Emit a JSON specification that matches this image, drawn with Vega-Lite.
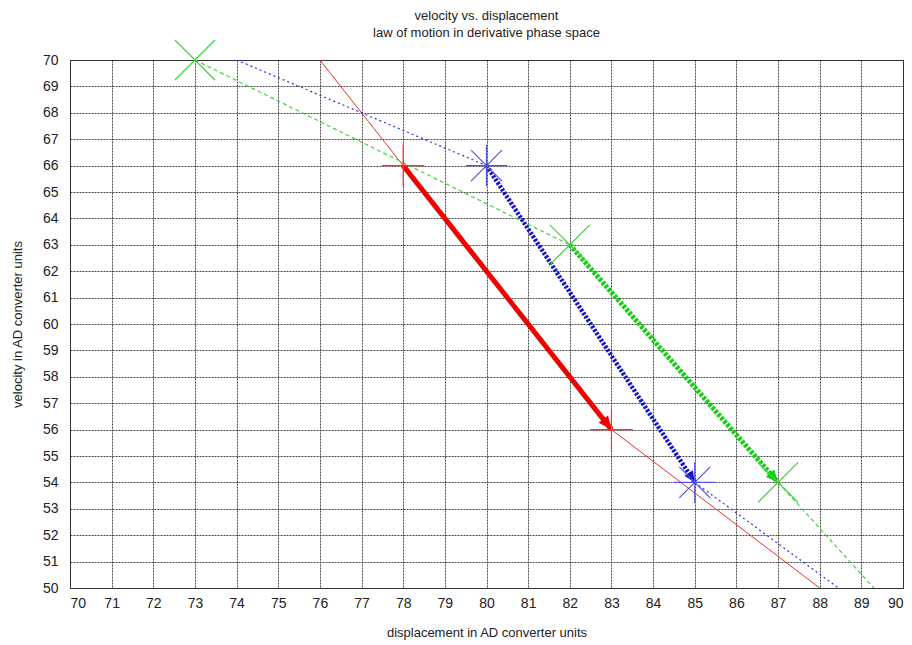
{
  "$schema": "https://vega.github.io/schema/vega-lite/v6.json",
  "width": 833,
  "height": 528,
  "autosize": "none",
  "padding": {"left": 70, "top": 60, "right": 9, "bottom": 57},
  "background": "white",
  "config": {
    "view": {"stroke": "#333", "strokeWidth": 1},
    "font": "Liberation Sans",
    "axis": {
      "grid": true,
      "gridColor": "#333",
      "gridWidth": 1,
      "gridDash": [2, 1],
      "gridOpacity": 0.9,
      "ticks": false,
      "domain": false,
      "labelFont": "Liberation Sans",
      "labelFontSize": 14,
      "labelColor": "#222",
      "titleFont": "Liberation Sans",
      "titleFontSize": 13,
      "titleFontWeight": "normal",
      "titleColor": "#222"
    }
  },
  "title": {
    "text": ["velocity vs. displacement", "law of motion in derivative phase space"],
    "font": "Liberation Sans",
    "fontSize": 13,
    "fontWeight": "normal",
    "color": "#222",
    "anchor": "middle",
    "offset": -2,
    "lineHeight": 17
  },
  "datasets": {
    "lines": [
      {"seg": "r1", "order": 1, "x": 76, "y": 70},
      {"seg": "r1", "order": 2, "x": 78, "y": 66},
      {"seg": "r2", "order": 1, "x": 83, "y": 56},
      {"seg": "r2", "order": 2, "x": 88, "y": 50},
      {"seg": "b1", "order": 1, "x": 74, "y": 70},
      {"seg": "b1", "order": 2, "x": 80, "y": 66},
      {"seg": "b2", "order": 1, "x": 85, "y": 54},
      {"seg": "b2", "order": 2, "x": 88.45, "y": 50},
      {"seg": "g1", "order": 1, "x": 73, "y": 70},
      {"seg": "g1", "order": 2, "x": 82, "y": 63},
      {"seg": "g2", "order": 1, "x": 87, "y": 54},
      {"seg": "g2", "order": 2, "x": 89.3, "y": 50},
      {"seg": "R", "order": 1, "x": 78, "y": 66},
      {"seg": "R", "order": 2, "x": 83, "y": 56},
      {"seg": "B", "order": 1, "x": 80, "y": 66},
      {"seg": "B", "order": 2, "x": 85, "y": 54},
      {"seg": "G", "order": 1, "x": 82, "y": 63},
      {"seg": "G", "order": 2, "x": 87, "y": 54}
    ],
    "markers": [
      {"kind": "plus", "x": 78, "y": 66},
      {"kind": "plus", "x": 83, "y": 56},
      {"kind": "star", "x": 80, "y": 66},
      {"kind": "star", "x": 85, "y": 54},
      {"kind": "cross", "x": 73, "y": 70},
      {"kind": "cross", "x": 82, "y": 63},
      {"kind": "cross", "x": 87, "y": 54}
    ],
    "arrows": [
      {"arrow": "R", "x": 83, "y": 56},
      {"arrow": "B", "x": 85, "y": 54},
      {"arrow": "G", "x": 87, "y": 54}
    ]
  },
  "encoding": {
    "x": {
      "field": "x", "type": "quantitative",
      "scale": {"domain": [70, 90], "nice": false, "zero": false},
      "axis": {"values": [70,71,72,73,74,75,76,77,78,79,80,81,82,83,84,85,86,87,88,89,90], "title": "displacement in AD converter units", "labelPadding": 8, "titlePadding": 16}
    },
    "y": {
      "field": "y", "type": "quantitative",
      "scale": {"domain": [50, 70], "nice": false, "zero": false},
      "axis": {"values": [50,51,52,53,54,55,56,57,58,59,60,61,62,63,64,65,66,67,68,69,70], "title": "velocity in AD converter units", "labelPadding": 12, "titlePadding": 18}
    }
  },
  "layer": [
    {"data": {"name": "lines"}, "transform": [{"filter": "datum.seg == 'r1' || datum.seg == 'r2'"}],
     "mark": {"type": "line", "color": "#e83030", "strokeWidth": 1, "clip": true},
     "encoding": {"detail": {"field": "seg"}, "order": {"field": "order"}}},
    {"data": {"name": "lines"}, "transform": [{"filter": "datum.seg == 'b1' || datum.seg == 'b2'"}],
     "mark": {"type": "line", "color": "#3030e0", "strokeWidth": 1.2, "strokeDash": [2, 3], "clip": true},
     "encoding": {"detail": {"field": "seg"}, "order": {"field": "order"}}},
    {"data": {"name": "lines"}, "transform": [{"filter": "datum.seg == 'g1' || datum.seg == 'g2'"}],
     "mark": {"type": "line", "color": "#40d040", "strokeWidth": 1.2, "strokeDash": [4, 3], "clip": true},
     "encoding": {"detail": {"field": "seg"}, "order": {"field": "order"}}},
    {"data": {"name": "lines"}, "transform": [{"filter": "datum.seg == 'R'"}],
     "mark": {"type": "line", "color": "#ee0000", "strokeWidth": 5},
     "encoding": {"order": {"field": "order"}}},
    {"data": {"name": "lines"}, "transform": [{"filter": "datum.seg == 'B'"}],
     "mark": {"type": "line", "color": "#1515c8", "strokeWidth": 4.5, "strokeDash": [2.5, 1.5]},
     "encoding": {"order": {"field": "order"}}},
    {"data": {"name": "lines"}, "transform": [{"filter": "datum.seg == 'G'"}],
     "mark": {"type": "line", "color": "#10d010", "strokeWidth": 5, "strokeDash": [3, 1.5]},
     "encoding": {"order": {"field": "order"}}},
    {"data": {"name": "arrows"}, "transform": [{"filter": "datum.arrow == 'R'"}],
     "mark": {"type": "point", "shape": "M0,0L-0.45,1L0.45,1Z", "filled": true, "color": "#ee0000", "size": 700, "angle": 142, "opacity": 1}},
    {"data": {"name": "arrows"}, "transform": [{"filter": "datum.arrow == 'B'"}],
     "mark": {"type": "point", "shape": "M0,0L-0.45,1L0.45,1Z", "filled": true, "color": "#1515c8", "size": 500, "angle": 147, "opacity": 1}},
    {"data": {"name": "arrows"}, "transform": [{"filter": "datum.arrow == 'G'"}],
     "mark": {"type": "point", "shape": "M0,0L-0.45,1L0.45,1Z", "filled": true, "color": "#10d010", "size": 600, "angle": 139, "opacity": 1}},
    {"data": {"name": "markers"}, "transform": [{"filter": "datum.kind == 'plus'"}],
     "mark": {"type": "point", "shape": "M-1,0L1,0M0,-1L0,1", "filled": false, "color": "#ff3030", "size": 1800, "strokeWidth": 1.2, "opacity": 1}},
    {"data": {"name": "markers"}, "transform": [{"filter": "datum.kind == 'star'"}],
     "mark": {"type": "point", "shape": "M-1,0L1,0M0,-1L0,1M-0.75,-0.75L0.75,0.75M-0.75,0.75L0.75,-0.75", "filled": false, "color": "#5050f0", "size": 1700, "strokeWidth": 1.2, "opacity": 1}},
    {"data": {"name": "markers"}, "transform": [{"filter": "datum.kind == 'cross'"}],
     "mark": {"type": "point", "shape": "M-1,-1L1,1M-1,1L1,-1", "filled": false, "color": "#40d040", "size": 1600, "strokeWidth": 1.2, "opacity": 1, "clip": false}}
  ]
}
